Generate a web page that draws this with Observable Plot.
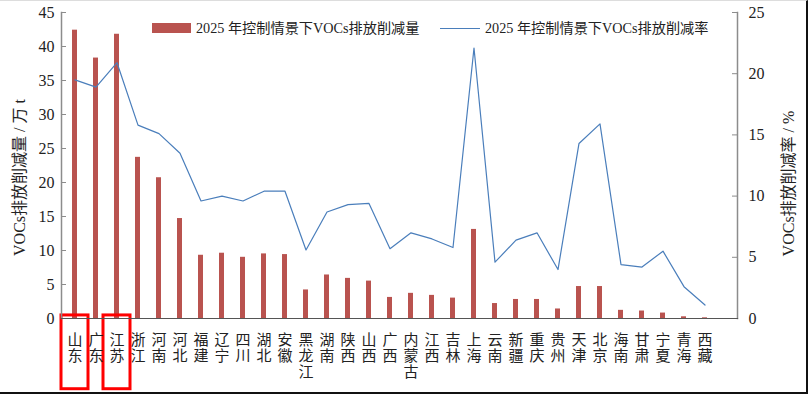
<!DOCTYPE html>
<html><head><meta charset="utf-8">
<script src="https://cdn.jsdelivr.net/npm/d3@7"></script>
<script src="https://cdn.jsdelivr.net/npm/@observablehq/plot@0.6"></script>
<style>
body{margin:0;background:#fff;}
#wrap{position:relative;width:808px;height:397px;overflow:hidden;background:#fff;}
#border{position:absolute;left:0;top:0;width:808px;height:394px;box-sizing:border-box;border-top:1px solid #ddd;border-right:2px solid #111;border-bottom:2px solid #111;pointer-events:none;}
.lg{position:absolute;font-family:"Liberation Serif","Noto Sans CJK SC",serif;font-size:14.2px;color:#222;white-space:nowrap;line-height:1;}
.sw{position:absolute;}
</style>
</head><body>
<div id="wrap">
  <div id="chart"></div>
  <div class="sw" style="left:152px;top:23px;width:39px;height:10px;background:#b9534f"></div>
  <div class="lg" style="left:196px;top:21px">2025 年控制情景下VOCs排放削减量</div>
  <div class="sw" style="left:440px;top:28px;width:40px;height:0;border-top:1.3px solid #4a7ebb"></div>
  <div class="lg" style="left:485px;top:21px">2025 年控制情景下VOCs排放削减率</div>
  <div id="border"></div>
</div>
<script>
const provinces = ["山东","广东","江苏","浙江","河南","河北","福建","辽宁","四川","湖北","安徽","黑龙江","湖南","陕西","山西","广西","内蒙古","江西","吉林","上海","云南","新疆","重庆","贵州","天津","北京","海南","甘肃","宁夏","青海","西藏"];
const reduction = [42.4,38.3,41.8,23.7,20.7,14.7,9.3,9.6,9.0,9.5,9.4,4.2,6.4,5.9,5.5,3.1,3.7,3.4,3.0,13.1,2.2,2.8,2.8,1.4,4.7,4.7,1.2,1.1,0.8,0.25,0.1];
const rate = [19.5,18.9,20.9,15.8,15.1,13.5,9.6,10.0,9.6,10.4,10.4,5.6,8.7,9.3,9.4,5.7,7.0,6.5,5.8,22.1,4.6,6.4,7.0,4.0,14.3,15.9,4.4,4.2,5.5,2.6,1.1];
const leftTicks = [0,5,10,15,20,25,30,35,40,45];
const rightTicks = [0,5,10,15,20,25];
const highlighted = ["山东","江苏"];
const leftTitle = "VOCs排放削减量 / 万 t";
const rightTitle = "VOCs排放削减率 / %";

const k = 45 / 25;
const data = provinces.map((p, i) => ({p, v: reduction[i], r: rate[i]}));
const axisColor = "#8c8c8c";

const chart = Plot.plot({
  width: 808, height: 397,
  marginLeft: 61, marginRight: 71, marginTop: 12, marginBottom: 79,
  x: {domain: provinces, padding: 0, insetRight: 20, axis: null},
  y: {domain: [0, 45], axis: null},
  style: {fontFamily: '"Liberation Serif","Noto Sans CJK SC",serif', fontSize: "15px", background: "transparent", color: "#222"},
  marks: [
    Plot.barY(data, {x: "p", y: "v", fill: "#b9534f", insetLeft: 8, insetRight: 8}),
    Plot.lineY(data, {x: "p", y: d => d.r * k, stroke: "#4a7ebb", strokeWidth: 1.2}),
    Plot.barY(highlighted, {x: d => d, y1: -10.4, y2: 0.45, fill: "none", stroke: "#ff0000", strokeWidth: 3, insetLeft: -3, insetRight: -3}),
    Plot.axisY({anchor: "left", ticks: leftTicks, tickSize: -5, tickPadding: 12, stroke: axisColor, fontSize: 16, label: null}),
    Plot.axisY({anchor: "right", ticks: rightTicks.map(t => t * k), tickFormat: t => String(Math.round(t / k)), tickSize: -6, tickPadding: 17, stroke: axisColor, fontSize: 16, label: null}),
    Plot.axisX({tickFormat: d => d.split("").join("\n"), tickSize: 0, tickPadding: 15, fontSize: 15, lineHeight: 1.07, lineAnchor: "top", label: null}),
    Plot.frame({anchor: "left", stroke: axisColor, strokeWidth: 1.5}),
    Plot.frame({anchor: "right", stroke: axisColor, strokeWidth: 1.5}),
    Plot.frame({anchor: "bottom", stroke: "#555", strokeWidth: 1.2}),
    Plot.text([leftTitle], {text: d => d, frameAnchor: "left", textAnchor: "middle", rotate: -90, dx: -42, dy: 12, fontSize: 16}),
    Plot.text([rightTitle], {text: d => d, frameAnchor: "right", textAnchor: "middle", rotate: -90, dx: 51, dy: 18, fontSize: 16})
  ]
});
document.getElementById("chart").appendChild(chart);
</script>
</body></html>
